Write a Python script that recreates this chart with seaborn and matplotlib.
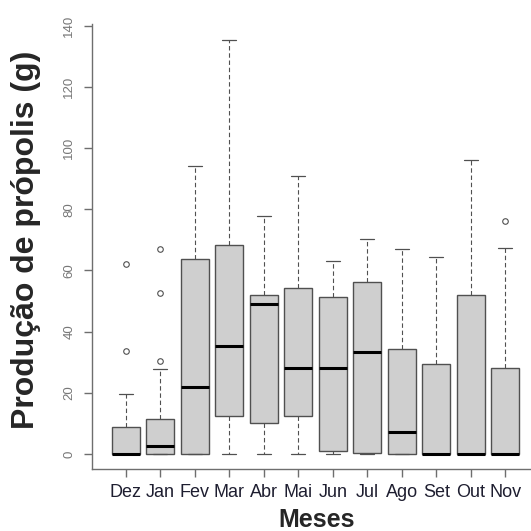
import matplotlib
matplotlib.use("Agg")
import matplotlib.pyplot as plt
import seaborn as sns

# Monthly propolis production: five-number summaries per month
meses = ["Dez", "Jan", "Fev", "Mar", "Abr", "Mai", "Jun", "Jul", "Ago", "Set", "Out", "Nov"]
q1 = [0, 0, 0, 12.4, 10.1, 12.4, 1.0, 0.3, 0, 0, 0, 0]
mediana = [0, 2.6, 21.9, 35.3, 48.9, 28.1, 28.1, 33.3, 7.2, 0, 0, 0]
q3 = [8.8, 11.4, 63.6, 68.3, 51.9, 54.3, 51.3, 56.2, 34.3, 29.4, 51.9, 28.1]
bigode_inf = [0, 0, 0, 0, 0, 0, 0, 0, 0, 0, 0, 0]
bigode_sup = [19.6, 27.8, 94.1, 135.3, 77.7, 91.0, 63.0, 70.2, 67.0, 64.4, 96.0, 67.3]
outliers = {
    "Dez": [33.6, 62.0],
    "Jan": [30.4, 52.5, 67.0],
    "Nov": [76.1],
}
y_ticks = [0, 20, 40, 60, 80, 100, 120, 140]

sns.set_style("ticks")
plt.rcParams["font.family"] = ["Liberation Sans", "DejaVu Sans"]

stats = []
for i, m in enumerate(meses):
    stats.append(dict(label=m, q1=q1[i], med=mediana[i], q3=q3[i],
                      whislo=bigode_inf[i], whishi=bigode_sup[i],
                      fliers=outliers.get(m, [])))

W, H = 531, 531
fig = plt.figure(figsize=(W / 100, H / 100), dpi=100)
ax = fig.add_axes([92 / W, (H - 469) / H, 447 / W, 445.5 / H])

axis_gray = "#6e6e6e"
ax.bxp(
    stats,
    positions=range(1, len(meses) + 1),
    widths=0.8,
    capwidths=0.4,
    patch_artist=True,
    boxprops=dict(facecolor="#cfcfcf", edgecolor="#505050", linewidth=1.0),
    medianprops=dict(color="black", linewidth=2.2, solid_capstyle="butt"),
    whiskerprops=dict(color="#505050", linewidth=0.8, linestyle=(0, (4, 2.5))),
    capprops=dict(color="#505050", linewidth=0.9),
    flierprops=dict(marker="o", markersize=4, markerfacecolor="none",
                    markeredgecolor="#505050", markeredgewidth=0.8),
)

ax.set_xlim(0.02, 12.98)
ax.set_ylim(-4.9, 140.7)
ax.set_yticks(y_ticks)
ax.set_yticklabels([str(t) for t in y_ticks])
ax.set_xticks(range(1, len(meses) + 1))
ax.set_xticklabels(meses)

sns.despine(ax=ax)
for side in ("left", "bottom"):
    ax.spines[side].set_color(axis_gray)
    ax.spines[side].set_linewidth(1.0)

ax.tick_params(axis="y", length=6, width=1.0, color=axis_gray, labelcolor="#777777",
               labelsize=9.5, pad=6, labelrotation=90)
for lab in ax.get_yticklabels():
    lab.set_va("center")
ax.tick_params(axis="x", length=6, width=1.0, color=axis_gray, labelcolor="#1e1e30",
               labelsize=13, pad=5)

ax.set_xlabel("Meses", fontsize=18, fontweight="bold", va="center")
ax.xaxis.set_label_coords(0.503, -0.114)
ax.set_ylabel("Produção de própolis (g)", fontsize=23, fontweight="bold", va="center")
ax.yaxis.set_label_coords(-0.148, 0.514)

fig.savefig("out.png", dpi=100)
